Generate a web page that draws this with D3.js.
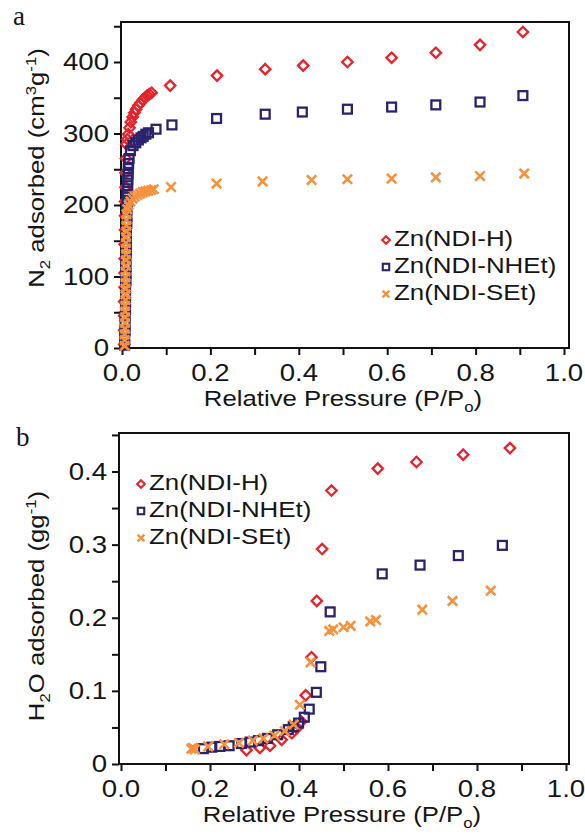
<!DOCTYPE html>
<html>
<head>
<meta charset="utf-8">
<script src="https://cdn.jsdelivr.net/npm/d3@7"></script>
<style>
  body { margin: 0; background: #fff; }
  svg text { font-family: "Liberation Sans", Arial, sans-serif; fill: #151515; }
</style>
</head>
<body>
<div id="chart"></div>
<script>
const width = 585
const height = 835

// series names and colours
const seriesNames = ["Zn(NDI-H)", "Zn(NDI-NHEt)", "Zn(NDI-SEt)"]
const seriesColors = ["#e5232b", "#2a226c", "#f6913d"]
const seriesShapes = ["diamond", "square", "cross"]

// panel a : N2 isotherm (relative pressure, cm3/g)
const n2P_H = [0.005,0.005,0.005,0.005,0.006,0.006,0.006,0.006,0.007,0.007,0.007,0.008,0.008,0.009,
  0.010,0.012,0.014,0.017,0.020,0.024,0.028,0.032,0.037,0.042,0.047,0.052,0.057,0.062,0.067,
  0.109,0.215,0.324,0.410,0.510,0.610,0.710,0.810,0.907]
const n2V_H = [5,25,45,65,85,105,125,145,165,185,205,225,245,265,
  285,292,299,308,316,323,329,334,339,343,347,350,353,355,357,
  367,381,390,395,400,406,413,424,442]

const n2P_NHEt = [0.006,0.006,0.007,0.007,0.007,0.008,0.008,0.008,0.008,0.009,0.009,0.009,0.009,0.010,0.010,
  0.010,0.010,0.011,0.011,0.011,0.012,0.012,0.012,0.013,0.013,0.014,0.014,0.015,0.016,0.019,
  0.025,0.031,0.037,0.043,0.048,0.054,0.060,0.077,0.113,0.214,0.324,0.408,0.510,0.610,0.710,0.810,0.907]
const n2V_NHEt = [4,14,24,34,44,54,64,74,84,94,104,114,124,134,144,
  154,164,174,184,194,203,211,219,227,235,243,251,258,265,276,
  283,287,291,294,296,299,301,306,312,321,327,330,334,337,340,344,353]

const n2P_SEt = [0.006,0.006,0.006,0.007,0.007,0.007,0.007,0.007,0.008,0.008,0.008,0.008,0.008,0.008,
  0.009,0.009,0.009,0.009,0.009,0.009,0.010,0.010,0.010,0.010,
  0.012,0.015,0.019,0.024,0.029,0.035,0.041,0.047,0.053,0.059,0.066,0.072,
  0.111,0.214,0.318,0.429,0.510,0.610,0.710,0.810,0.910]
const n2V_SEt = [3,11,19,27,35,43,51,59,67,75,83,91,99,107,
  115,123,131,139,147,155,163,171,179,187,
  194,200,205,209,212,214,216,218,219,220,221,222,
  225,230,233,235,236,237,238.5,240.5,244]

// panel b : H2O isotherm (relative pressure, g/g)
const h2oP_H = [0.282,0.312,0.335,0.361,0.384,0.395,0.405,0.415,0.428,0.440,0.452,0.473,0.577,0.664,0.769,0.874]
const h2oV_H = [0.019,0.022,0.025,0.033,0.042,0.049,0.058,0.094,0.146,0.223,0.294,0.374,0.404,0.413,0.423,0.432]

const h2oP_NHEt = [0.185,0.204,0.222,0.243,0.271,0.290,0.309,0.329,0.352,0.376,0.387,0.399,0.412,0.423,0.439,0.449,0.470,0.587,0.672,0.758,0.857]
const h2oV_NHEt = [0.021,0.023,0.024,0.025,0.028,0.030,0.032,0.035,0.040,0.047,0.051,0.056,0.064,0.075,0.098,0.133,0.208,0.260,0.272,0.285,0.299]

const h2oP_SEt = [0.158,0.162,0.166,0.196,0.232,0.265,0.296,0.320,0.345,0.368,0.388,0.402,0.426,0.468,0.477,0.500,0.516,0.560,0.573,0.677,0.745,0.831]
const h2oV_SEt = [0.021,0.022,0.020,0.024,0.027,0.029,0.032,0.035,0.039,0.045,0.054,0.081,0.139,0.182,0.184,0.187,0.189,0.195,0.197,0.211,0.223,0.237]

// ticks
const xTicksMajor = [0, 0.2, 0.4, 0.6, 0.8, 1.0]
const xTicksAll = [0, 0.1, 0.2, 0.3, 0.4, 0.5, 0.6, 0.7, 0.8, 0.9, 1.0]
const n2TicksMajor = [0, 100, 200, 300, 400]
const n2TicksAll = [0, 50, 100, 150, 200, 250, 300, 350, 400, 450]
const h2oTicksMajor = [0, 0.1, 0.2, 0.3, 0.4]
const h2oTicksAll = [0, 0.05, 0.1, 0.15, 0.2, 0.25, 0.3, 0.35, 0.4, 0.45]

const svg = d3.select("#chart").append("svg").attr("width", width).attr("height", height)

// the scanned figure has slightly wide lettering
const tickStretch = 1.2
const titleStretch = 1.12
const legendStretch = 1.15

function zip(px, py) { return px.map((p, i) => ({ p: p, v: py[i] })) }

function drawMarker(g, shape, color, s, sw) {
    if (shape === "diamond") {
        g.append("path")
            .attr("d", `M0,${-s}L${s},0L0,${s}L${-s},0Z`)
            .attr("fill", "none").attr("stroke", color).attr("stroke-width", sw)
    } else if (shape === "square") {
        const h = s * 0.85
        g.append("rect")
            .attr("x", -h).attr("y", -h).attr("width", 2 * h).attr("height", 2 * h)
            .attr("fill", "none").attr("stroke", color).attr("stroke-width", sw)
    } else {
        const h = s * 0.9
        g.append("path")
            .attr("d", `M${-h},${-h}L${h},${h}M${-h},${h}L${h},${-h}`)
            .attr("fill", "none").attr("stroke", color).attr("stroke-width", sw + 0.3)
    }
}

function panel(opt) {
    const { left, right, top, bottom, x0, x1, y0, yRef, yRefPx, series, yMajor, yAll, yFmt,
            letter, letterX, letterY, yTitle, yTitleC, xTitleY, legend } = opt
    const x = d3.scaleLinear().domain([0, 1]).range([x0, x1])
    const y = d3.scaleLinear().domain([0, yRef]).range([y0, yRefPx])

    const g = svg.append("g")

    // frame
    g.append("rect")
        .attr("x", left).attr("y", top)
        .attr("width", right - left).attr("height", bottom - top)
        .attr("fill", "none").attr("stroke", "#111").attr("stroke-width", 2)

    // x axis
    const xAxis = g.append("g").attr("transform", `translate(0,${bottom})`)
        .call(d3.axisBottom(x).tickValues(xTicksAll).tickSize(7).tickFormat(""))
    xAxis.select(".domain").remove()
    xAxis.selectAll("line").attr("stroke", "#111").attr("stroke-width", 2)
    g.append("g").selectAll("text").data(xTicksMajor).join("text")
        .attr("transform", d => `translate(${x(d)},${bottom + 33}) scale(${tickStretch},1)`)
        .attr("text-anchor", "middle")
        .attr("font-size", 23)
        .text(d => d3.format(".1f")(d))

    // y axis
    const yAxis = g.append("g").attr("transform", `translate(${left},0)`)
        .call(d3.axisLeft(y).tickValues(yAll).tickSize(7).tickFormat(""))
    yAxis.select(".domain").remove()
    yAxis.selectAll("line").attr("stroke", "#111").attr("stroke-width", 2)
    g.append("g").selectAll("text").data(yMajor).join("text")
        .attr("transform", d => `translate(${left - 12},${y(d) + 8}) scale(${tickStretch},1)`)
        .attr("text-anchor", "end")
        .attr("font-size", 23)
        .text(yFmt)

    // data
    series.forEach((s, i) => {
        g.append("g").selectAll("g").data(zip(s.p, s.v)).join("g")
            .attr("transform", d => `translate(${x(d.p)},${y(d.v)})`)
            .each(function() { drawMarker(d3.select(this), seriesShapes[i], seriesColors[i], 5.2, 2.3) })
    })

    // legend
    seriesNames.forEach((name, i) => {
        const ly = legend.y + i * 27
        const m = g.append("g").attr("transform", `translate(${legend.x},${ly - 6})`)
        drawMarker(m, seriesShapes[i], seriesColors[i], 3.8, 2.1)
        g.append("text")
            .attr("transform", `translate(${legend.x + 8},${ly}) scale(${legendStretch},1)`)
            .attr("font-size", 22.5)
            .text(name)
    })

    // panel letter (serif, like the journal figure)
    svg.append("text")
        .attr("x", letterX).attr("y", letterY)
        .style("font-family", "'Liberation Serif', 'Times New Roman', serif")
        .attr("font-size", 27)
        .text(letter)

    // x title
    const xt = g.append("text")
        .attr("transform", `translate(${(left + right) / 2 - 2},${xTitleY}) scale(${titleStretch},1)`)
        .attr("text-anchor", "middle")
        .attr("font-size", 23)
    xt.append("tspan").text("Relative Pressure (P/P")
    xt.append("tspan").attr("font-size", 15).attr("dy", 6).text("o")
    xt.append("tspan").attr("dy", -6).text(")")

    // y title
    const yt = g.append("text")
        .attr("transform", `translate(44,${yTitleC}) rotate(-90) scale(${titleStretch},1)`)
        .attr("text-anchor", "middle")
        .attr("font-size", 23)
    yTitle(yt)
}

panel({
    left: 121, right: 569, top: 22, bottom: 348,
    x0: 122, x1: 564, y0: 348, yRef: 400, yRefPx: 62,
    series: [
        { p: n2P_H, v: n2V_H },
        { p: n2P_NHEt, v: n2V_NHEt },
        { p: n2P_SEt, v: n2V_SEt }
    ],
    yMajor: n2TicksMajor, yAll: n2TicksAll, yFmt: d => d,
    letter: "a", letterX: 13, letterY: 25,
    xTitleY: 406,
    legend: { x: 386, y: 246 },
    yTitleC: 168,
    yTitle: t => {
        t.append("tspan").text("N")
        t.append("tspan").attr("font-size", 15).attr("dy", 6).text("2")
        t.append("tspan").attr("dy", -6).text(" adsorbed (cm")
        t.append("tspan").attr("font-size", 15).attr("dy", -8).text("3")
        t.append("tspan").attr("dy", 8).text("g")
        t.append("tspan").attr("font-size", 15).attr("dy", -8).text("-1")
        t.append("tspan").attr("dy", 8).text(")")
    }
})

panel({
    left: 119, right: 569, top: 433, bottom: 764,
    x0: 121, x1: 566, y0: 764, yRef: 0.4, yRefPx: 471.5,
    series: [
        { p: h2oP_H, v: h2oV_H },
        { p: h2oP_NHEt, v: h2oV_NHEt },
        { p: h2oP_SEt, v: h2oV_SEt }
    ],
    yMajor: h2oTicksMajor, yAll: h2oTicksAll, yFmt: d => d === 0 ? "0" : d3.format(".1f")(d),
    letter: "b", letterX: 16, letterY: 446,
    xTitleY: 822,
    legend: { x: 141, y: 490 },
    yTitleC: 606,
    yTitle: t => {
        t.append("tspan").text("H")
        t.append("tspan").attr("font-size", 15).attr("dy", 6).text("2")
        t.append("tspan").attr("dy", -6).text("O adsorbed (gg")
        t.append("tspan").attr("font-size", 15).attr("dy", -8).text("-1")
        t.append("tspan").attr("dy", 8).text(")")
    }
})
</script>
</body>
</html>
